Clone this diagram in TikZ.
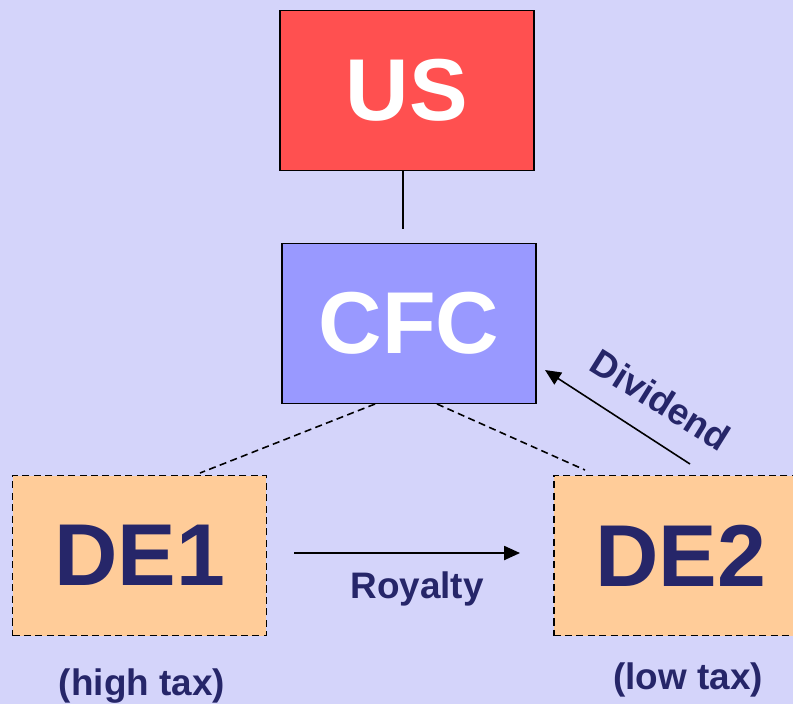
\documentclass[tikz,border=0pt]{standalone}
\usepackage{fontspec}
\setmainfont{Liberation Sans}
\usepackage{tikz}
\usetikzlibrary{arrows.meta}

\definecolor{bgblue}{RGB}{212,212,250}
\definecolor{usred}{RGB}{255,80,80}
\definecolor{cfcblue}{RGB}{153,153,255}
\definecolor{deorange}{RGB}{255,204,153}
\definecolor{navy}{RGB}{38,38,105}

\tikzset{
  entity/.style={draw=black, line width=1.1pt, minimum width=5.08cm, minimum height=3.2cm,
    font=\fontsize{50}{50}\selectfont\bfseries},
  parent/.style={entity, fill=#1, text=white},
  disregarded/.style={entity, dash pattern=on 4pt off 2.5pt, fill=deorange, text=navy},
  flow/.style={line width=0.9pt, -{Triangle[length=9pt,width=8pt]}},
  lbl/.style={text=navy, font=\fontsize{21}{21}\selectfont\bfseries}
}

\begin{document}
\begin{tikzpicture}[x=0.02cm, y=-0.02cm]
			
			\fill[bgblue] (0,0) rectangle (793,704);
			\useasboundingbox (0,0) rectangle (793,704);
			
			\node[parent=usred] (us) at (407,90.5) {US};
			\node[parent=cfcblue] (cfc) at (409,323.5) {CFC};
			\node[disregarded] (de1) at (139.5,555.5) {DE1};
			\node[disregarded] (de2) at (680.5,555.5) {DE2};
			
			\coordinate (cfcl) at (375,404);
			\coordinate (cfcr) at (437,404);
			\coordinate (de1t) at (200,473);
			\coordinate (de2t) at (585,470);
			
			\draw[line width=0.9pt, shorten >=8pt] (us.south -| 403,0) -- (cfc.north -| 403,0);
			\draw[dash pattern=on 4pt off 2.5pt, line width=0.9pt] (cfcl) -- (de1t);
			\draw[dash pattern=on 4pt off 2.5pt, line width=0.9pt] (cfcr) -- (de2t);
			
			\coordinate (roy1) at (294,553);
			\coordinate (roy2) at (520,553);
			\draw[flow] (roy1) -- (roy2);
			\node[lbl] (royalty) at (417,589) {Royalty};
			
			\coordinate (div1) at (690,464);
			\coordinate (div2) at (545,370);
			\draw[flow] (div1) -- (div2);
			\node[lbl, rotate=-32] (dividend) at (661,400) {Dividend};
			
			\node[lbl] (high) at (142,686) {(high tax)};
			\node[lbl] (low) at (688,680) {(low tax)};
			
\end{tikzpicture}
\end{document}
